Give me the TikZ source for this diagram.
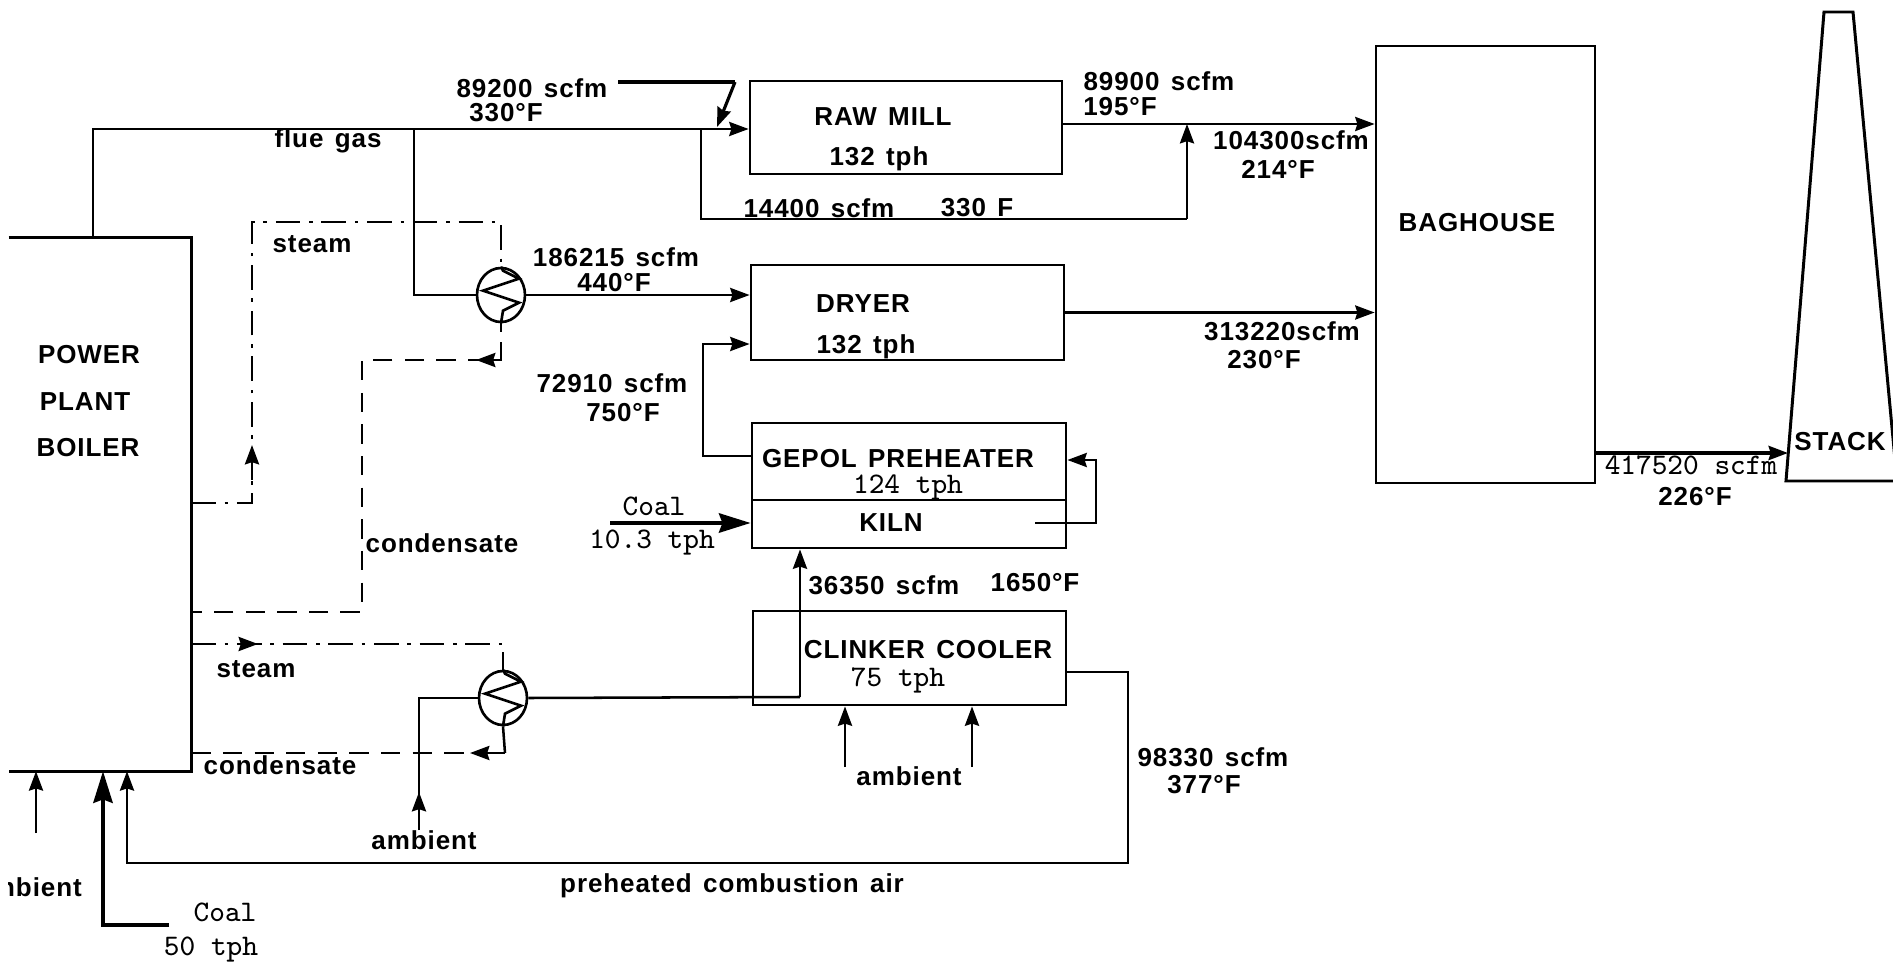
\documentclass[tikz,border=0pt]{standalone}
\usepackage{fontspec}
\setmainfont[LetterSpace=3.5,WordSpace=1.4]{Liberation Sans}
\usepackage{tikz}
\usetikzlibrary{arrows.meta, shapes.geometric}

\begin{document}
\begin{tikzpicture}[
  line width=0.72pt,
  unit/.style={rectangle, draw, line width=0.8pt, inner sep=0pt},
  hx/.style={ellipse, draw, line width=0.75pt, minimum width=0.48cm, minimum height=0.54cm, inner sep=0pt},
  lbl/.style={font=\bfseries\fontsize{7.4}{9}\selectfont, inner sep=0pt, align=center},
  mono/.style={font=\ttfamily\fontsize{8.5}{10}\selectfont, inner sep=0pt, align=center},
  arrow/.style={-{Stealth[length=5.5pt, width=4pt, inset=0.6pt]}},
  bigarrow/.style={-{Stealth[length=9pt, width=5.5pt, inset=1pt]}, line width=1.1pt},
  steamline/.style={dash pattern=on 7pt off 2.5pt on 1pt off 2.5pt},
  condline/.style={dash pattern=on 5.5pt off 3.5pt},
]
\clip (0, 0) rectangle (18.93, -9.64);
% units
\node[minimum width=1.8cm, minimum height=5.31cm, inner sep=0pt] (boiler) at (1.0, -5.045) {};
\node[unit, minimum width=3.12cm, minimum height=0.93cm] (rawmill) at (9.06, -1.275) {};
\node[unit, minimum width=3.13cm, minimum height=0.95cm] (dryer)   at (9.075, -3.125) {};
\node[unit, minimum width=3.14cm, minimum height=0.77cm] (gepol)   at (9.09, -4.615) {};
\node[unit, minimum width=3.14cm, minimum height=0.48cm] (kiln)    at (9.09, -5.24) {};
\node[unit, minimum width=3.13cm, minimum height=0.94cm] (cooler)  at (9.095, -6.58) {};
\node[unit, minimum width=2.19cm, minimum height=4.37cm] (baghouse) at (14.855, -2.645) {};
\node[hx] (hxa) at (5.01, -2.95) {};
\node[hx] (hxb) at (5.03, -6.98) {};
\draw (boiler.north west) -- (boiler.north east) -- (boiler.south east) -- (boiler.south west);
\draw[line width=0.85pt] (18.24, -0.12) -- (18.53, -0.12) -- (18.97, -4.81) -- (17.86, -4.81) -- cycle;
% free ends and bends
\coordinate (flueup)   at (0.93, -1.29);
\coordinate (fluedrop) at (4.14, -1.29);
\coordinate (byoff)    at (7.01, -1.29);
\coordinate (bymerge)  at (11.87, -1.24);
\coordinate (bybend)   at (11.87, -2.19);
\coordinate (millout)  at (10.62, -1.24);
\coordinate (dryerin)  at (7.03, -3.44);
\coordinate (preout)   at (7.52, -4.56);
\coordinate (coalin)   at (6.10, -5.23);
\coordinate (recycle)  at (10.35, -5.23);
\coordinate (recyback) at (10.96, -4.60);
\coordinate (stackin)  at (17.88, -4.53);
\coordinate (ambwest)  at (4.19, -8.30);
\coordinate (ambtip)   at (4.19, -7.92);
\coordinate (ambl)     at (0.36, -8.33);
\coordinate (ambr)     at (8.45, -7.67);
\coordinate (ambs)     at (9.72, -7.67);
\coordinate (coalfoot) at (1.69, -9.25);
\coordinate (coalbend) at (1.03, -9.25);
\coordinate (airbottom) at (1.27, -8.63);
\coordinate (airright) at (11.28, -8.63);
\coordinate (airout)   at (11.28, -6.72);
\coordinate (hotrise)  at (8.00, -6.97);
\coordinate (supout)   at (6.18, -0.82);
\coordinate (supbend)  at (7.35, -0.82);
\coordinate (suptip)   at (7.17, -1.27);
\coordinate (stmtop)   at (2.52, -2.22);
\coordinate (stmtipa)  at (2.52, -4.45);
\coordinate (stmlow)   at (2.52, -4.80);
\coordinate (stmfoot)  at (2.52, -5.03);
\coordinate (cndcorn)  at (5.01, -3.60);
\coordinate (cndstub)  at (5.01, -3.32);
\coordinate (cndgap)   at (5.01, -3.42);
\coordinate (cndtip)   at (4.76, -3.60);
\coordinate (cndbend)  at (3.62, -3.60);
\coordinate (cndfoot)  at (3.62, -6.12);
\coordinate (stlcorn)  at (5.03, -6.44);
\coordinate (stltip)   at (2.58, -6.44);
\coordinate (stlarrow) at (2.40, -6.44);
\coordinate (cnlcorn)  at (5.05, -7.53);
\coordinate (cnltip)   at (4.70, -7.53);
% gas lines
\draw (flueup |- boiler.north) -- (flueup) -- (byoff);
\draw[arrow] (byoff) -- (byoff -| rawmill.west);
\draw (fluedrop) |- (hxa.west);
\draw[arrow] (hxa.east) -- (hxa.east -| dryer.west);
\draw (byoff) |- (bybend);
\draw[arrow] (bybend) -- (bymerge);
\draw[arrow] (millout) -- (bymerge -| baghouse.west);
\draw[arrow] (dryer.east) -- (dryer.east -| baghouse.west);
\draw[arrow] (preout -| gepol.west) -| (dryerin) -- (dryerin -| dryer.west);
\draw[arrow, line width=1pt] (stackin -| baghouse.east) -- (stackin);
\draw[arrow] (recycle) -| (recyback) -- (recyback -| gepol.east);
\draw[bigarrow] (coalin) -- (coalin -| kiln.west);
\draw[line width=1.1pt] (supout) -- (supbend);
\draw[arrow, line width=0.9pt] (supbend) -- (suptip);
\draw (hxb.east) -- (hotrise);
\draw[arrow] (hotrise) -- (hotrise |- kiln.south);
\draw (ambwest) -- (ambwest |- hxb.west) -- (hxb.west);
\draw[arrow] (ambwest) -- (ambtip);
\draw[arrow] (ambl) -- (ambl |- boiler.south);
\draw[bigarrow, line width=1pt] (coalfoot) -- (coalbend) -- (coalbend |- boiler.south);
\draw[arrow] (airout -| cooler.east) -- (airout) -- (airright) -- (airbottom) -- (airbottom |- boiler.south);
\draw[arrow] (ambr) -- (ambr |- cooler.south);
\draw[arrow] (ambs) -- (ambs |- cooler.south);
% steam and condensate lines
\draw[steamline] (stmfoot -| boiler.east) -- (stmfoot) -- (stmtop) -| (hxa.north);
\draw[arrow] (stmlow) -- (stmtipa);
\draw[condline] (cndgap) -- (cndcorn) -- (cndbend) -- (cndfoot) -- (cndfoot -| boiler.east);
\draw (hxa.south) -- (cndstub);
\draw[arrow] (cndcorn) -- (cndtip);
\draw[steamline] (stlcorn -| boiler.east) -- (stlcorn) -- (hxb.north);
\draw[arrow] (stlarrow) -- (stltip);
\draw[condline] (cnlcorn -| boiler.east) -- (cnlcorn);
\draw (hxb.south) -- (cnlcorn);
\draw[arrow] (cnlcorn) -- (cnltip);
% coils
\foreach \hxn in {hxa, hxb}
  \draw[line width=0.75pt] (\hxn.north) -- ++(0.02, -0.04) -- ++(0.16, -0.08) -- ++(-0.36, -0.12) -- ++(0.36, -0.12) -- ++(-0.16, -0.08) -- (\hxn.south);
% labels
\node[lbl] (tpower)  at (0.89, -3.55) {POWER};
\node[lbl] (tplant)  at (0.85, -4.02) {PLANT};
\node[lbl] (tboiler) at (0.88, -4.48) {BOILER};
\node[lbl] (tflue)   at (3.28, -1.41) {flue gas};
\node[lbl] (tsupa)   at (5.32, -0.88) {89200 scfm};
\node[lbl] (tsupb)   at (5.06, -1.13) {330°F};
\node[lbl] (tsteama) at (3.12, -2.44) {steam};
\node[lbl] (thxa)    at (6.16, -2.57) {186215 scfm};
\node[lbl] (thxb)    at (6.14, -2.83) {440°F};
\node[lbl] (tprea)   at (6.12, -3.83) {72910 scfm};
\node[lbl] (tpreb)   at (6.23, -4.13) {750°F};
\node[lbl] (tconda)  at (4.42, -5.43) {condensate};
\node[lbl] (tsteamb) at (2.56, -6.69) {steam};
\node[lbl] (tcondb)  at (2.80, -7.65) {condensate};
\node[lbl] (tmill)   at (8.83, -1.17) {RAW MILL};
\node[lbl] (tmillr)  at (8.79, -1.59) {132 tph};
\node[lbl] (tbya)    at (8.19, -2.08) {14400 scfm};
\node[lbl] (tbyb)    at (9.77, -2.08) {330 F};
\node[lbl] (tmoa)    at (11.59, -0.81) {89900 scfm};
\node[lbl] (tmob)    at (11.20, -1.07) {195°F};
\node[lbl] (tmga)    at (12.91, -1.40) {104300scfm};
\node[lbl] (tmgb)    at (12.78, -1.69) {214°F};
\node[lbl] (tdryer)  at (8.63, -3.04) {DRYER};
\node[lbl] (tdryerr) at (8.66, -3.47) {132 tph};
\node[lbl] (tdoa)    at (12.82, -3.31) {313220scfm};
\node[lbl] (tdob)    at (12.64, -3.60) {230°F};
\node[lbl] (tgepol)  at (8.98, -4.59) {GEPOL PREHEATER};
\node[mono] (tgepolr) at (9.08, -4.87) {124 tph};
\node[lbl] (tkiln)   at (8.91, -5.23) {KILN};
\node[mono] (tcoalk) at (6.54, -5.06) {Coal};
\node[mono] (tcoalr) at (6.52, -5.43) {10.3 tph};
\node[lbl] (tkga)    at (8.84, -5.85) {36350 scfm};
\node[lbl] (tkgb)    at (10.35, -5.83) {1650°F};
\node[lbl] (tcooler) at (9.28, -6.50) {CLINKER COOLER};
\node[mono] (tcoolr) at (8.98, -6.80) {75 tph};
\node[lbl] (tamba)   at (9.09, -7.76) {ambient};
\node[lbl] (tambb)   at (4.24, -8.40) {ambient};
\node[lbl] (tcga)    at (12.13, -7.57) {98330 scfm};
\node[lbl] (tcgb)    at (12.04, -7.85) {377°F};
\node[lbl] (tair)    at (7.32, -8.86) {preheated combustion air};
\node[mono] (tcoalb) at (2.25, -9.12) {Coal};
\node[mono] (tcoalc) at (2.11, -9.50) {50 tph};
\node[lbl] (tbag)    at (14.77, -2.23) {BAGHOUSE};
\node[mono] (tsta)   at (16.91, -4.65) {417520 scfm};
\node[lbl] (tstb)    at (16.95, -4.97) {226°F};
\node[lbl] (tstack)  at (18.40, -4.42) {STACK};
\begin{scope}
  \clip (0.08, -8.60) rectangle (1.0, -9.10);
  \node[lbl, anchor=east] (tambc) at (0.83, -8.87) {ambient};
\end{scope}
\end{tikzpicture}
\end{document}
